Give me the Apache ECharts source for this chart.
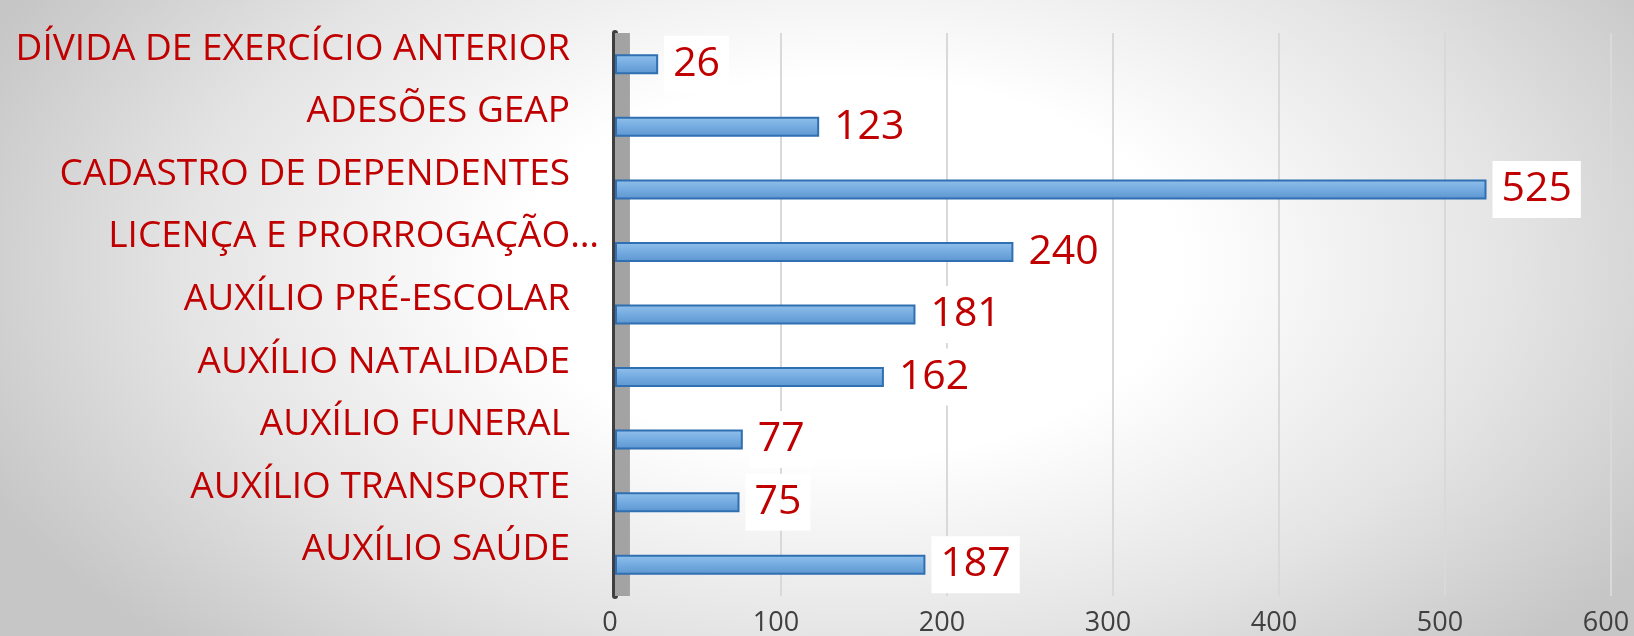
<!DOCTYPE html>
<html>
<head>
<meta charset="utf-8">
<script src="https://cdn.jsdelivr.net/npm/echarts@6/dist/echarts.min.js"></script>
<style>
    html, body { margin: 0; padding: 0; }
    #chart {
        width: 1634px;
        height: 636px;
        background: radial-gradient(ellipse 58% 85% at 52% 42%, #ffffff 35%, #e4e4e4 70%, #c6c6c6 100%);
    }
</style>
</head>
<body>
<div id="chart"></div>
<script>
    // categorias de cima para baixo
    const categories = [
        'DÍVIDA DE EXERCÍCIO ANTERIOR',
        'ADESÕES GEAP',
        'CADASTRO DE DEPENDENTES',
        'LICENÇA E PRORROGAÇÃO…',
        'AUXÍLIO PRÉ-ESCOLAR',
        'AUXÍLIO NATALIDADE',
        'AUXÍLIO FUNERAL',
        'AUXÍLIO TRANSPORTE',
        'AUXÍLIO SAÚDE'
    ]
    const values = [26, 123, 525, 240, 181, 162, 77, 75, 187]
    const xTicks = [0, 100, 200, 300, 400, 500, 600]

    const red = '#c00000'
    const catFont = {color: red, fontFamily: 'Open Sans', fontSize: 37}

    // largura das reticências, para que fiquem penduradas à direita como no original
    const ctx = document.createElement('canvas').getContext('2d')
    ctx.font = '37px "Open Sans"'
    const dotsW = Math.round(ctx.measureText('…').width)

    const chart = echarts.init(document.getElementById('chart'))

    chart.setOption({
        backgroundColor: 'transparent',
        animation: false,
        grid: {left: 615, right: 23, top: 33, bottom: 40, containLabel: false, outerBoundsMode: 'none'},
        xAxis: {
            type: 'value',
            min: xTicks[0],
            max: xTicks[xTicks.length - 1],
            interval: 100,
            axisLine: {show: false},
            axisTick: {show: false},
            splitLine: {lineStyle: {color: '#d9d9d9', width: 2}},
            axisLabel: {
                color: '#404040',
                fontFamily: 'Open Sans',
                fontSize: 27,
                margin: 14,
                padding: [0, 10, 0, 0]
            }
        },
        yAxis: {
            type: 'category',
            inverse: true,
            data: categories,
            offset: 5,
            axisLine: {lineStyle: {color: '#3f3f3f', width: 6}},
            axisTick: {show: false},
            axisLabel: {
                margin: 40 - dotsW,
                ...catFont,
                verticalAlign: 'middle',
                formatter: v => v.endsWith('…') ? '{e|' + v + '}' : '{t|' + v + '}',
                rich: {
                    // rótulos ficam um pouco acima das barras (efeito 3D do original)
                    t: {...catFont, padding: [0, dotsW, 30, 0]},
                    e: {...catFont, padding: [0, 0, 30, 0]}
                }
            }
        },
        series: [{
            type: 'bar',
            data: values,
            barWidth: 20,
            itemStyle: {
                color: new echarts.graphic.LinearGradient(0, 0, 0, 1, [
                    {offset: 0, color: '#92c1ec'},
                    {offset: 0.5, color: '#74abe0'},
                    {offset: 1, color: '#5c95cf'}
                ]),
                borderColor: '#2f6fb2',
                borderWidth: 2
            },
            label: {
                show: true,
                position: 'right',
                distance: 6,
                color: red,
                fontFamily: 'Open Sans',
                fontSize: 41,
                backgroundColor: '#ffffff',
                padding: [8, 9]
            },
            markArea: {
                silent: true,
                itemStyle: {color: '#a3a3a3'},
                data: [[{xAxis: 0}, {xAxis: 9}]]
            }
        }]
    })
</script>
</body>
</html>
